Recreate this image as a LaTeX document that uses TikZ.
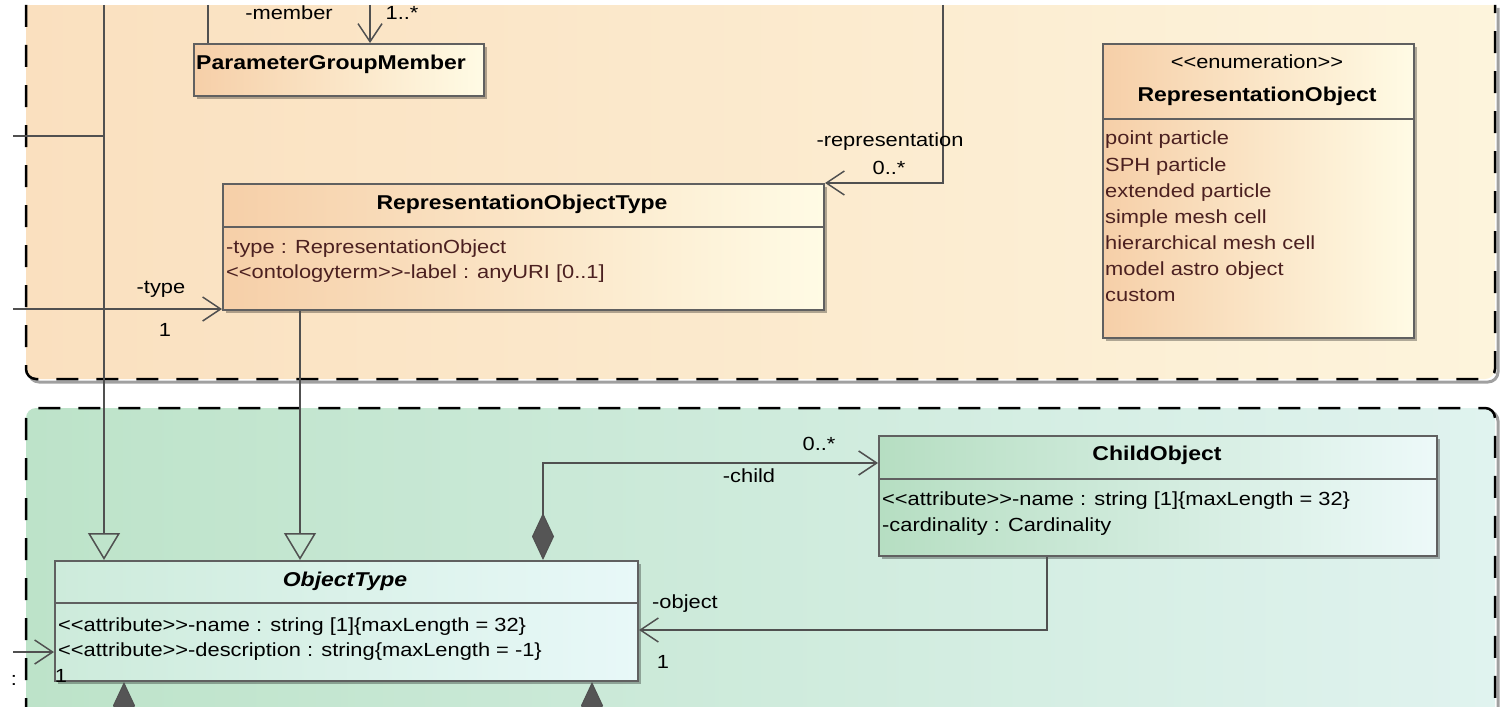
\documentclass[tikz,border=0pt]{standalone}
\usepackage{fontspec}
\newfontfamily\umlfont[FakeStretch=1.15]{Liberation Sans}
\usetikzlibrary{arrows.meta,shadows}
\definecolor{pkgOL}{HTML}{FAE0BF}
\definecolor{pkgOR}{HTML}{FDF4DC}
\definecolor{pkgGL}{HTML}{BDE3C9}
\definecolor{pkgGR}{HTML}{E0F3EF}
\definecolor{obL}{HTML}{F6CFA8}
\definecolor{obR}{HTML}{FFFBE5}
\definecolor{gbL}{HTML}{B6DEC2}
\definecolor{gbR}{HTML}{EDF9F9}
\definecolor{otL}{HTML}{CDEBDB}
\definecolor{otR}{HTML}{E8F8F8}
\definecolor{connc}{HTML}{505050}
\definecolor{boxline}{HTML}{606060}
\definecolor{diac}{HTML}{555555}
\definecolor{attrbrown}{HTML}{4B2020}
\definecolor{shadowgray}{HTML}{A0A0A0}
\begin{document}
\begin{tikzpicture}[x=1bp,y=-1bp,
  conn/.style={draw=connc, line width=1.5bp},
  barb/.style={-{Straight Barb[length=18bp,width=24bp,line width=1.5bp]}},
  gen/.style={-{Triangle[open,length=27bp,width=32bp,line width=1.5bp]}},
  comp/.style={{Diamond[length=47bp,width=22bp,fill=diac,line width=1bp]}-},
  compbarb/.style={{Diamond[length=47bp,width=22bp,fill=diac,line width=1bp]}-{Straight Barb[length=18bp,width=24bp,line width=1.5bp]}},
  pkgborder/.style={draw=black, line width=2.5bp, dash pattern=on 22bp off 18bp},
  classbox/.style={draw=boxline, line width=2bp, inner sep=0pt, anchor=north west,
    drop shadow={shadow xshift=3bp,shadow yshift=-3bp,opacity=0.3,fill=black}},
  orangebox/.style={classbox, left color=obL, right color=obR},
  greenbox/.style={classbox, left color=gbL, right color=gbR},
  otbox/.style={classbox, left color=otL, right color=otR},
  lbl/.style={font=\umlfont\fontsize{19bp}{22bp}\selectfont, text=black, inner sep=0pt,
    text height=14bp, text depth=4bp},
  attr/.style={lbl, anchor=west},
  battr/.style={attr, text=attrbrown},
  ttl/.style={font=\umlfont\bfseries\fontsize{20bp}{24bp}\selectfont, text=black, inner sep=0pt,
    text height=15bp, text depth=4bp},
  divider/.style={draw=boxline, line width=2bp},
]
\useasboundingbox (0,0) rectangle (1509,707);
\fill[white] (0,0) rectangle (1509,707);

% ---------- packages ----------
\draw[shadowgray, line width=3bp, rounded corners=10bp, xshift=3bp, yshift=-3bp]
  (26,5) -- (26,379) -- (1495,379) -- (1495,5);
\shade[left color=pkgOL, right color=pkgOR, rounded corners=10bp]
  (26,-20) -- (26,379) -- (1495,379) -- (1495,-20) -- cycle;
\fill[white] (0,0) rectangle (1509,5);
\draw[pkgborder, rounded corners=10bp] (26,5) -- (26,379) -- (1495,379) -- (1495,5);

\draw[shadowgray, line width=3bp, rounded corners=10bp, xshift=3bp, yshift=-3bp]
  (26,720) -- (26,408) -- (1495,408) -- (1495,720);
\shade[left color=pkgGL, right color=pkgGR, rounded corners=10bp]
  (26,730) -- (26,408) -- (1495,408) -- (1495,730) -- cycle;
\draw[pkgborder, rounded corners=10bp] (26,720) -- (26,408) -- (1495,408) -- (1495,720);

% ---------- classes ----------
\node[orangebox, minimum width=290bp, minimum height=52bp] (pgm) at (193,43) {};
\node[ttl, anchor=west] (pgmt) at (196,64) {ParameterGroupMember};

\node[orangebox, minimum width=601bp, minimum height=126bp] (rot) at (222,183) {};
\draw[divider] ([yshift=-44bp]rot.north west) -- ([yshift=-44bp]rot.north east);
\node[ttl] (rott) at (522,204) {RepresentationObjectType};
\node[battr] (rota1) at (226,248) {-type : RepresentationObject};
\node[battr] (rota2) at (226,273) {<<ontologyterm>>-label : anyURI [0..1]};

\node[orangebox, minimum width=311bp, minimum height=294bp] (enm) at (1102,43) {};
\draw[divider] ([yshift=-76bp]enm.north west) -- ([yshift=-76bp]enm.north east);
\node[lbl] (enms) at (1257,64) {<<enumeration>>};
\node[ttl] (enmt) at (1257,96) {RepresentationObject};
\node[battr] (e1) at (1105,140) {point particle};
\node[battr] (e2) at (1105,166) {SPH particle};
\node[battr] (e3) at (1105,192) {extended particle};
\node[battr] (e4) at (1105,218) {simple mesh cell};
\node[battr] (e5) at (1105,244) {hierarchical mesh cell};
\node[battr] (e6) at (1105,270) {model astro object};
\node[battr] (e7) at (1105,296) {custom};

\node[greenbox, minimum width=558bp, minimum height=120bp] (cho) at (878,435) {};
\draw[divider] ([yshift=-44bp]cho.north west) -- ([yshift=-44bp]cho.north east);
\node[ttl] (chot) at (1157,455) {ChildObject};
\node[attr] (choa1) at (882,500) {<<attribute>>-name : string [1]\{maxLength = 32\}};
\node[attr] (choa2) at (882,526) {-cardinality : Cardinality};

\node[otbox, minimum width=583bp, minimum height=120bp] (ot) at (54,560) {};
\draw[divider] ([yshift=-43bp]ot.north west) -- ([yshift=-43bp]ot.north east);
\node[ttl, font=\umlfont\bfseries\itshape\fontsize{20bp}{24bp}\selectfont] (ott) at (345,581) {ObjectType};
\node[attr] (ota1) at (58,626) {<<attribute>>-name : string [1]\{maxLength = 32\}};
\node[attr] (ota2) at (58,651) {<<attribute>>-description : string\{maxLength = -1\}};
\node[lbl] (ot1) at (61,677) {1};

% ---------- connectors ----------
\coordinate (t1) at (104,5);
\coordinate (t2) at (208,5);
\coordinate (t3) at (370,5);
\coordinate (t4) at (943,5);
\coordinate (k4) at (943,183);
\coordinate (l1) at (13,136);
\coordinate (l2) at (13,309);
\coordinate (l3) at (13,652);
\coordinate (k1) at (543,463);
\coordinate (k2) at (1047,630);
\coordinate (k3) at (300,560);
\coordinate (b1) at (124,720);
\coordinate (b2) at (592,720);

\draw[conn, gen] (t1) -- (t1 |- ot.north);
\draw[conn] (l1) -- (l1 -| t1);
\draw[conn] (t2) -- (t2 |- pgm.north);
\draw[conn, barb] (t3) -- (t3 |- pgm.north);
\draw[conn, barb] (t4) -- (k4) -- (k4 -| rot.east);
\draw[conn, barb] (l2) -- (l2 -| rot.west);
\draw[conn, gen] (k3 |- rot.south) -- (k3 |- ot.north);
\draw[conn, compbarb] (k1 |- ot.north) -- (k1) -- (k1 -| cho.west);
\draw[conn, barb] (k2 |- cho.south) -- (k2) -- (k2 -| ot.east);
\draw[conn, barb] (l3) -- (l3 -| ot.west);
\draw[conn, comp] (b1 |- ot.south) -- (b1);
\draw[conn, comp] (b2 |- ot.south) -- (b2);

% ---------- labels ----------
\node[lbl] (m1) at (289,15) {-member};
\node[lbl] (m2) at (402,15) {1..*};
\node[lbl] (r1) at (890,142) {-representation};
\node[lbl] (r2) at (889,169) {0..*};
\node[lbl] (ty1) at (161,288) {-type};
\node[lbl] (ty2) at (165,331) {1};
\node[lbl] (c1) at (819,445) {0..*};
\node[lbl] (c2) at (749,477) {-child};
\node[lbl] (o1) at (685,603) {-object};
\node[lbl] (o2) at (663,663) {1};
\node[lbl] (cut) at (14,680) {:};
\end{tikzpicture}
\end{document}
